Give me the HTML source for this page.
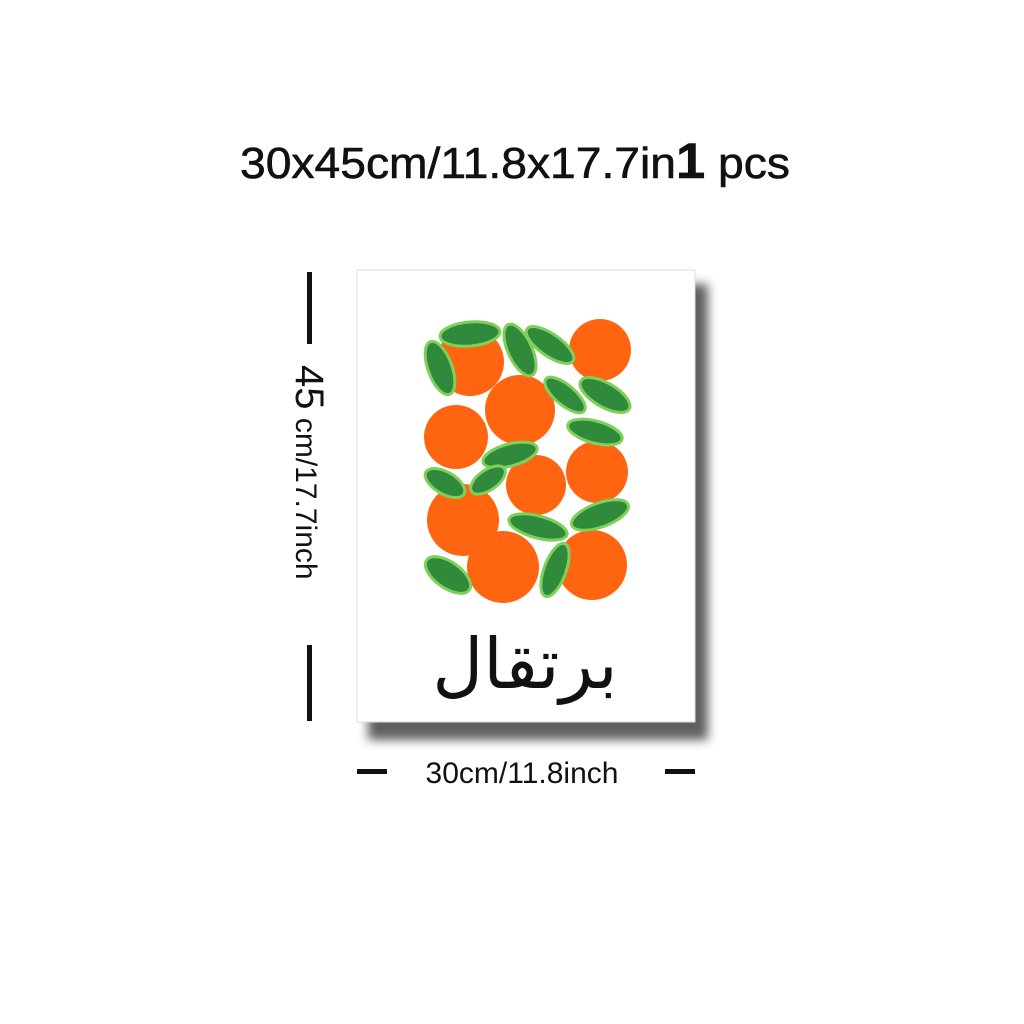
<!DOCTYPE html>
<html><head><meta charset="utf-8">
<style>
html,body{margin:0;padding:0;background:#fff;width:1024px;height:1024px;overflow:hidden}
</style></head>
<body>
<svg width="1024" height="1024" viewBox="0 0 1024 1024" xmlns="http://www.w3.org/2000/svg">
  <defs>
    <filter id="blur" x="-20%" y="-20%" width="140%" height="140%"><feGaussianBlur stdDeviation="5"/></filter>
  </defs>
  <text x="240" y="178" textLength="550" lengthAdjust="spacingAndGlyphs" font-family="Liberation Sans, sans-serif" font-size="44" font-weight="normal" fill="#111" stroke="#111" stroke-width="0.6">30x45cm/11.8x17.7in<tspan font-size="50" font-weight="bold">1</tspan> pcs</text>

  <rect x="368" y="284" width="340" height="456" fill="#444" opacity="0.85" filter="url(#blur)"/>
  <rect x="357" y="270" width="338" height="452" fill="#fff" stroke="#ddd" stroke-width="1"/>

  <g>
    <g fill="#ff6510">
      <circle cx="470" cy="362" r="34"/>
      <circle cx="600" cy="350" r="31"/>
      <circle cx="520" cy="410" r="35"/>
      <circle cx="456" cy="437" r="32"/>
      <circle cx="597" cy="472" r="31"/>
      <circle cx="536" cy="485" r="30"/>
      <circle cx="463" cy="520" r="36"/>
      <circle cx="503" cy="567" r="36"/>
      <circle cx="592" cy="565" r="35"/>
    </g>
    <g fill="#2f8a3c" stroke="#7fd05a" stroke-width="3">
      <ellipse cx="470" cy="334" rx="30" ry="12" transform="rotate(-5 470 334)"/>
      <ellipse cx="440" cy="368" rx="12" ry="28" transform="rotate(-20 440 368)"/>
      <ellipse cx="520" cy="350" rx="12" ry="28" transform="rotate(-25 520 350)"/>
      <ellipse cx="550" cy="345" rx="28" ry="11" transform="rotate(35 550 345)"/>
      <ellipse cx="605" cy="395" rx="28" ry="12" transform="rotate(30 605 395)"/>
      <ellipse cx="565" cy="395" rx="25" ry="10" transform="rotate(40 565 395)"/>
      <ellipse cx="595" cy="432" rx="28" ry="11" transform="rotate(15 595 432)"/>
      <ellipse cx="510" cy="455" rx="28" ry="11" transform="rotate(-15 510 455)"/>
      <ellipse cx="445" cy="483" rx="22" ry="11" transform="rotate(30 445 483)"/>
      <ellipse cx="488" cy="480" rx="20" ry="10" transform="rotate(-35 488 480)"/>
      <ellipse cx="538" cy="527" rx="30" ry="11" transform="rotate(15 538 527)"/>
      <ellipse cx="600" cy="515" rx="30" ry="12" transform="rotate(-20 600 515)"/>
      <ellipse cx="448" cy="575" rx="26" ry="13" transform="rotate(35 448 575)"/>
      <ellipse cx="555" cy="570" rx="11" ry="28" transform="rotate(20 555 570)"/>
    </g>
  </g>

  <text x="525" y="688" text-anchor="middle" font-family="DejaVu Sans, sans-serif" font-size="70" fill="#111" direction="rtl">برتقال</text>

  <g fill="#111">
    <rect x="307" y="272" width="5" height="72"/>
    <rect x="307" y="645" width="5" height="76"/>
    <text x="0" y="0" transform="translate(296 365) rotate(90)" font-family="Liberation Sans, sans-serif" font-size="30"><tspan font-size="40">45</tspan> cm/17.7inch</text>
  </g>

  <g fill="#111">
    <rect x="357" y="769" width="30" height="5"/>
    <rect x="665" y="769" width="30" height="5"/>
    <text x="522" y="783" text-anchor="middle" font-family="Liberation Sans, sans-serif" font-size="30">30cm/11.8inch</text>
  </g>
</svg>
</body></html>
